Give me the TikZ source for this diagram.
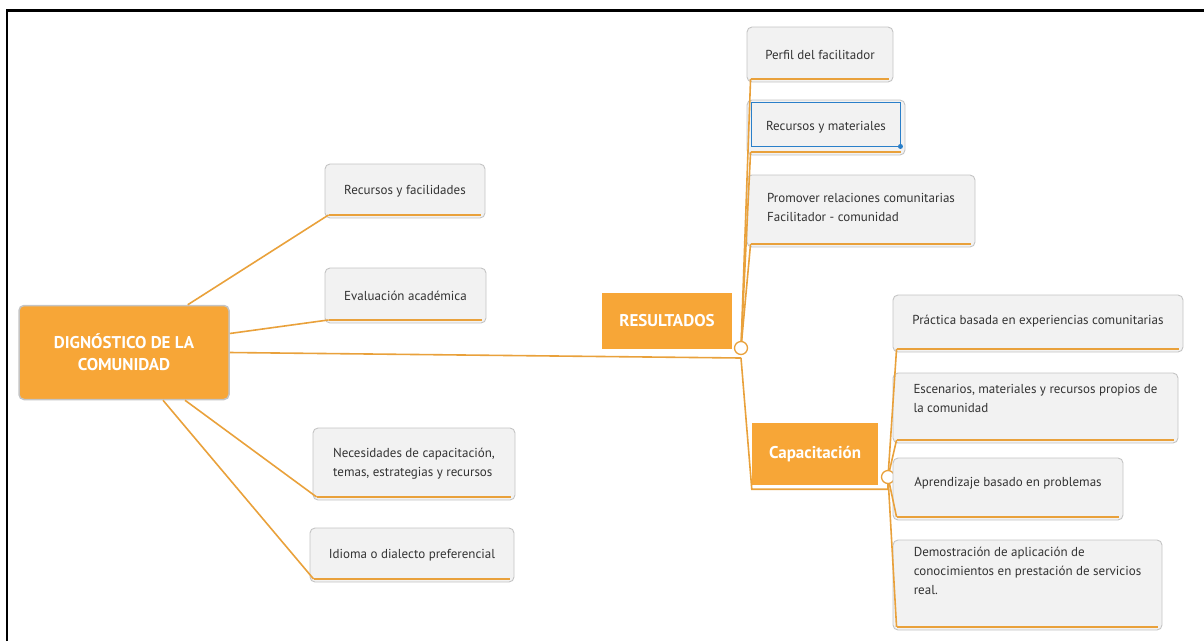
\documentclass[tikz,border=0pt]{standalone}
\usepackage{fontspec}
\setmainfont{PT Sans}
\usepackage{xcolor}
\usepackage{tikz}
\usetikzlibrary{positioning,calc}
\definecolor{mmorange}{HTML}{F7A637}
\definecolor{mmline}{HTML}{E9A13B}
\definecolor{boxgrey}{HTML}{F2F2F2}
\definecolor{boxedge}{HTML}{C4C4C4}
\definecolor{textgrey}{HTML}{333333}
\definecolor{selblue}{HTML}{2A7FC9}

\begin{document}
\begin{tikzpicture}[x=1pt, y=-1pt,
    topic/.style={rectangle, rounded corners=5pt, fill=boxgrey, draw=boxedge, line width=0.9pt,
        inner sep=0pt, align=left, text=textgrey, font=\fontsize{13}{19}\selectfont},
    maintopic/.style={rectangle, fill=mmorange, inner sep=0pt, align=center, text=white,
        font=\bfseries\fontsize{17}{22}\selectfont},
    conn/.style={draw=mmline, line width=1.6pt},
    uline/.style={draw=mmline, line width=1.8pt},
    knot/.style={circle, draw=mmline, fill=white, line width=1.3pt, minimum size=13pt, inner sep=0pt}]
    \useasboundingbox (0,0) rectangle (1204,641);
    \draw[line width=2.2pt] (7,641) -- (7,10.5) -- (1204,10.5);

    % central topic and its branches
    \node[maintopic, draw=boxedge, line width=1.5pt, rounded corners=5pt,
        minimum width=210pt, minimum height=94pt] (cd) at (124,352.5) {DIGNÓSTICO DE LA\\COMUNIDAD};
    \node[topic, minimum width=160pt, minimum height=54pt] (rf) at (405,191) {Recursos y facilidades};
    \node[topic, minimum width=161pt, minimum height=55pt] (ea) at (405.5,295.5) {Evaluación académica};
    \node[topic, minimum width=202pt, minimum height=72pt] (nc) at (414,464) {Necesidades de capacitación,\\temas, estrategias y recursos};
    \node[topic, minimum width=204pt, minimum height=54pt] (id) at (412,555) {Idioma o dialecto preferencial};

    % resultados
    \node[maintopic, minimum width=130pt, minimum height=56pt] (rs) at (667,321) {RESULTADOS};
    \coordinate (rj) at (741,358);
    \node[knot] (rc) at (741,348) {};
    \node[topic, minimum width=146pt, minimum height=55pt] (pf) at (820,54.5) {Perfil del facilitador};
    \node[topic, minimum width=158pt, minimum height=55pt] (rm) at (826,127.5) {Recursos y materiales};
    \node[topic, minimum width=228pt, minimum height=72pt] (pr) at (861,211) {Promover relaciones comunitarias\\Facilitador - comunidad\\[-12pt]};

    % capacitacion
    \node[maintopic, minimum width=126pt, minimum height=62pt] (ca) at (815,454) {Capacitación};
    \node[knot] (cc) at (888,477) {};
    \node[topic, minimum width=290pt, minimum height=57pt] (pc) at (1038,323.5) {Práctica basada en experiencias comunitarias\\[-12pt]};
    \node[topic, minimum width=285pt, minimum height=70pt] (es) at (1035.5,408) {Escenarios, materiales y recursos propios de\\la comunidad\\[0pt]};
    \node[topic, minimum width=230pt, minimum height=62pt] (ap) at (1008,489) {Aprendizaje basado en problemas\\[-4pt]};
    \node[topic, minimum width=269pt, minimum height=90pt] (de) at (1027.5,585) {Demostración de aplicación de\\conocimientos en prestación de servicios\\real.\\[10pt]};

    \foreach \n in {rf,ea,nc,id,pf,rm,pr,pc,es,ap,de}
        \draw[uline] ([xshift=4pt,yshift=3.5pt]\n.south west) -- ([xshift=-4pt,yshift=3.5pt]\n.south east);

    % selection frame
    \draw[selblue, line width=1.2pt] ([xshift=5pt,yshift=-3pt]rm.north west) rectangle ([xshift=-5pt,yshift=9pt]rm.south east);
    \fill[selblue] ([xshift=-5pt,yshift=9pt]rm.south east) circle (2.5pt);

    % connectors
    \draw[conn] ([xshift=-42pt]cd.north east) -- ([xshift=4pt,yshift=3.5pt]rf.south west);
    \draw[conn] ([yshift=19pt]cd.east) -- ([xshift=4pt,yshift=3.5pt]ea.south west);
    \draw[conn] ([xshift=61pt]cd.south) -- ([xshift=4pt,yshift=3.5pt]nc.south west);
    \draw[conn] ([xshift=39pt]cd.south) -- ([xshift=4pt,yshift=3.5pt]id.south west);
    \draw[conn] (cd.east) -- (rj);
    \draw[conn] (rc) -- ([xshift=4pt,yshift=3.5pt]pf.south west);
    \draw[conn] (rc) -- ([xshift=4pt,yshift=3.5pt]rm.south west);
    \draw[conn] (rc) -- ([xshift=4pt,yshift=3.5pt]pr.south west);
    \draw[conn] (rj) -- ([yshift=-4pt]ca.south west) -| (cc);
    \draw[conn] (cc) -- ([xshift=4pt,yshift=3.5pt]pc.south west);
    \draw[conn] (cc) -- ([xshift=4pt,yshift=3.5pt]es.south west);
    \draw[conn] (cc) -- ([xshift=4pt,yshift=3.5pt]ap.south west);
    \draw[conn] (cc) -- ([xshift=4pt,yshift=3.5pt]de.south west);
\end{tikzpicture}
\end{document}
